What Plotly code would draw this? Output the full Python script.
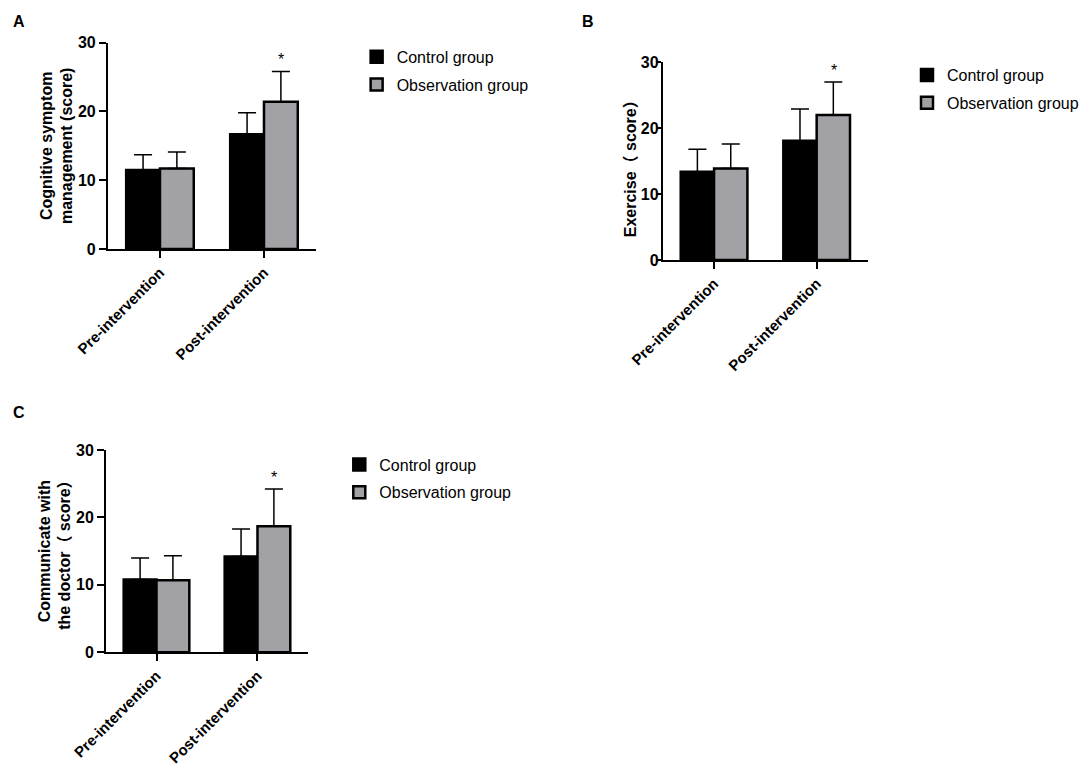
import plotly.graph_objects as go

# ---------------------------
# Data
# ---------------------------
categories = ["Pre-intervention", "Post-intervention"]
groups = ["Control group", "Observation group"]

cognitive_control = [11.5, 16.7]
cognitive_control_sd = [2.2, 3.1]
cognitive_obs = [11.7, 21.4]
cognitive_obs_sd = [2.4, 4.4]

exercise_control = [13.4, 18.1]
exercise_control_sd = [3.4, 4.8]
exercise_obs = [13.9, 22.0]
exercise_obs_sd = [3.7, 5.0]

doctor_control = [10.8, 14.2]
doctor_control_sd = [3.2, 4.1]
doctor_obs = [10.7, 18.7]
doctor_obs_sd = [3.6, 5.5]

FONT = "Arial, Liberation Sans, Noto Sans CJK SC, sans-serif"
BAR_COLORS = ["#000000", "#a2a2a6"]

# ---------------------------
# Panel layout (paper coords)
# title_pos=None -> normal axis title, else a rotated annotation at that spot
# ---------------------------
panels = [
    dict(letter="A", title="Cognitive symptom<br>management (score)", title_pos=None,
         yticklen=7, ylabelshift=0,
         means=[cognitive_control, cognitive_obs], sds=[cognitive_control_sd, cognitive_obs_sd],
         xdom=[0.0996, 0.2915], ydom=[0.6745, 0.9442],
         legend=(0.329, 0.948, "left"), letter_pos=(0.010, 0.985)),
    dict(letter="B", title="Exercise（ score）", title_pos=(0.5812, 0.784),
         yticklen=4, ylabelshift=-5,
         means=[exercise_control, exercise_obs], sds=[exercise_control_sd, exercise_obs_sd],
         xdom=[0.6114, 0.8007], ydom=[0.6601, 0.9186],
         legend=(1.0, 0.924, "right"), letter_pos=(0.535, 0.985)),
    dict(letter="C", title="Communicate with<br>the doctor（ score）", title_pos=None,
         yticklen=7, ylabelshift=0,
         means=[doctor_control, doctor_obs], sds=[doctor_control_sd, doctor_obs_sd],
         xdom=[0.0978, 0.2841], ydom=[0.1473, 0.4118],
         legend=(0.313, 0.415, "left"), letter_pos=(0.010, 0.475)),
]

fig = go.Figure()
layout = {}
annotations = []
title_font = dict(family=FONT, size=16, color="black", weight="bold")

for i, p in enumerate(panels):
    n = "" if i == 0 else str(i + 1)
    xa, ya = "x" + n, "y" + n
    leg = "legend" + n
    for g, name in enumerate(groups):
        fig.add_trace(go.Bar(
            x=categories, y=p["means"][g], name=name,
            xaxis=xa, yaxis=ya, legend=leg, offsetgroup=str(g),
            legendgroup=leg + name,
            marker=dict(color=BAR_COLORS[g], line=dict(color="black", width=2.5)),
            error_y=dict(type="data", symmetric=False, array=p["sds"][g],
                         arrayminus=[0, 0], color="black", thickness=1.5, width=9),
        ))
    layout["xaxis" + n] = dict(
        domain=p["xdom"], anchor=ya, type="category", range=[-0.5, 1.5],
        showline=True, linecolor="black", linewidth=2, ticks="outside",
        ticklen=7, tickwidth=2, tickcolor="black", tickangle=-45,
        tickfont=dict(family=FONT, size=15, color="black", weight="bold"),
        showgrid=False, zeroline=False, automargin=False,
    )
    ytitle = dict(text=p["title"], standoff=1, font=title_font) if p["title_pos"] is None else None
    layout["yaxis" + n] = dict(
        domain=p["ydom"], anchor=xa, range=[0, 30], dtick=10,
        showline=True, linecolor="black", linewidth=2, ticks="outside",
        ticklen=p["yticklen"], tickwidth=2, tickcolor="black",
        ticklabelstandoff=p["ylabelshift"],
        tickfont=dict(family=FONT, size=16, color="black", weight="bold"),
        title=ytitle,
        showgrid=False, zeroline=False, automargin=False,
    )
    if p["title_pos"] is not None:
        annotations.append(dict(
            x=p["title_pos"][0], y=p["title_pos"][1], xref="paper", yref="paper",
            xanchor="center", yanchor="middle",
            text=p["title"], textangle=-90, showarrow=False, font=title_font,
        ))
    layout[leg] = dict(
        x=p["legend"][0], y=p["legend"][1], xanchor=p["legend"][2], yanchor="top",
        font=dict(family=FONT, size=16, color="black"),
        bgcolor="rgba(0,0,0,0)", tracegroupgap=4, itemwidth=30,
    )
    # significance marker above the observation group, post-intervention
    annotations.append(dict(
        x=categories[1], y=p["means"][1][1] + p["sds"][1][1], xref=xa, yref=ya,
        text="*", showarrow=False, xshift=17, yshift=12,
        font=dict(family=FONT, size=16, color="black"),
    ))
    annotations.append(dict(
        x=p["letter_pos"][0], y=p["letter_pos"][1], xref="paper", yref="paper",
        xanchor="left", yanchor="top", text="<b>" + p["letter"] + "</b>",
        showarrow=False, font=dict(family=FONT, size=16, color="black"),
    ))

fig.update_layout(
    **layout,
    annotations=annotations,
    barmode="group", bargap=0.35, bargroupgap=0,
    width=1084, height=765,
    paper_bgcolor="white", plot_bgcolor="white",
    margin=dict(l=0, r=0, t=0, b=0),
    showlegend=True,
)

# drop the browser's default page margin so the figure sits at the window origin
fig.write_html("out.html", config={"displayModeBar": False},
               post_script="document.body.style.margin='0';")
